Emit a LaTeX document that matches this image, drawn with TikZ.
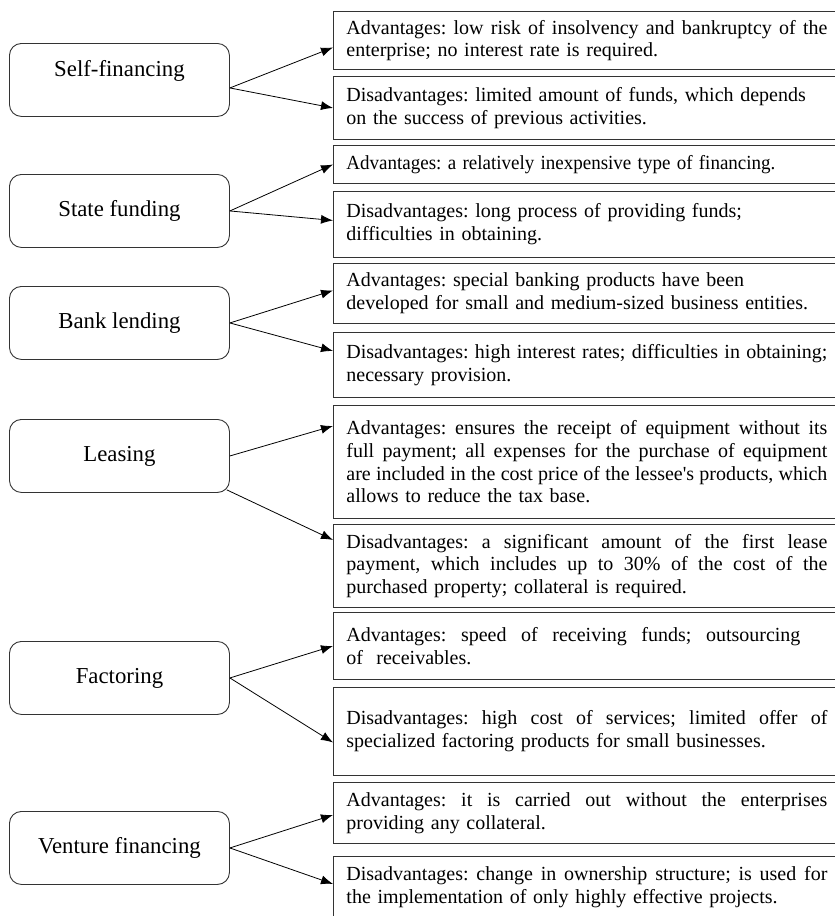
\documentclass[tikz,border=0pt]{standalone}
\usepackage{fontspec}
\setmainfont{Liberation Serif}
\usetikzlibrary{arrows.meta}
% justified line, stretched to the text width
\newcommand{\jline}[2][481pt]{\leavevmode\hbox to #1{\spaceskip=0.25em plus 0.5em minus 0.06em\relax #2}}
\tikzset{
  finbox/.style = {draw=black!80, rounded corners=12pt, line width=0.9pt,
    anchor=north west, minimum width=220pt, minimum height=73pt,
    font=\fontsize{22.8}{26}\selectfont},% kind of financing
  probox/.style = {draw=black!80, line width=0.9pt, anchor=north west,
    text width=481pt, inner xsep=13pt, align=left, minimum width=507pt,
    font=\fontsize{20}{22.7}\selectfont}% advantages, disadvantages
}
\frenchspacing
\begin{document}
\begin{tikzpicture}[x=1pt,y=-1pt,->,>={Latex[length=12pt,width=9pt]},
  line width=0.8pt]
\useasboundingbox (0,0) rectangle (835,916);
\clip (0,0) rectangle (835,916);
% kinds of financing
\node [finbox, text depth=23pt] (sf) at (9,43) {Self-financing};
\node [finbox] (st) at (9,174) {State funding};
\node [finbox] (bk) at (9,286) {Bank lending};
\node [finbox] (ls) at (9,419) {Leasing};
\node [finbox] (fc) at (9,641) {Factoring};
\node [finbox] (vn) at (9,811) {Venture financing};
% advantages and disadvantages
\node [probox, minimum height=58pt] (sfA) at (333,11)
  {\jline{Advantages: low risk of insolvency and bankruptcy of the}\\
   enterprise; no interest rate is required.};
\node [probox, minimum height=63pt] (sfD) at (333,76)
  {Disadvantages: limited amount of funds, which depends\\
   on the success of previous activities.};
\node [probox, minimum height=38pt] (stA) at (333,145)
  {\scalebox{0.95}[1]{Advantages: a relatively inexpensive type of financing.}};
\node [probox, minimum height=66pt] (stD) at (333,191)
  {Disadvantages: long process of providing funds;\\
   difficulties in obtaining.};
\node [probox, minimum height=60pt] (bkA) at (333,263)
  {Advantages: special banking products have been\\
   developed for small and medium-sized business entities.};
\node [probox, minimum height=65pt] (bkD) at (333,332)
  {\jline{Disadvantages: high interest rates; difficulties in obtaining;}\\
   necessary provision.};
\node [probox, minimum height=113pt] (lsA) at (333,405)
  {\jline{Advantages: ensures the receipt of equipment without its}\\
   \jline{full payment; all expenses for the purchase of equipment}\\
   \jline{are included in the cost price of the lessee\textquotesingle s products, which}\\
   allows to reduce the tax base.};
\node [probox, minimum height=83pt] (lsD) at (333,524)
  {\jline{Disadvantages: a significant amount of the first lease}\\
   \jline{payment, which includes up to 30\% of the cost of the}\\
   purchased property; collateral is required.};
\node [probox, minimum height=67pt] (fcA) at (333,612)
  {\jline[454pt]{Advantages: speed of receiving funds; outsourcing}\\
   of\ \ receivables.};
\node [probox, minimum height=88pt] (fcD) at (333,687)
  {\jline{Disadvantages: high cost of services; limited offer of}\\
   specialized factoring products for small businesses.};
\node [probox, minimum height=61pt] (vnA) at (333,782)
  {\jline{Advantages: it is carried out without the enterprises}\\
   providing any collateral.};
\node [probox, minimum height=61pt] (vnD) at (333,856)
  {\jline{Disadvantages: change in ownership structure; is used for}\\
   the implementation of only highly effective projects.};
% connectors
\draw ([yshift=-8pt]sf.east) -- ([yshift=-7pt]sfA.west);
\draw ([yshift=-8pt]sf.east) -- (sfD.west);
\draw (st.east) -- (stA.west);
\draw (st.east) -- ([yshift=4pt]stD.west);
\draw (bk.east) -- ([yshift=3pt]bkA.west);
\draw (bk.east) -- ([yshift=14pt]bkD.west);
\draw (ls.east) -- ([yshift=36pt]lsA.west);
\draw ([shift={(-3pt,3pt)}]ls.south east) -- ([yshift=26pt]lsD.west);
\draw (fc.east) -- (fcA.west);
\draw (fc.east) -- ([yshift=-11pt]fcD.west);
\draw (vn.east) -- ([yshift=-2pt]vnA.west);
\draw (vn.east) -- ([yshift=3pt]vnD.west);
\end{tikzpicture}
\end{document}
